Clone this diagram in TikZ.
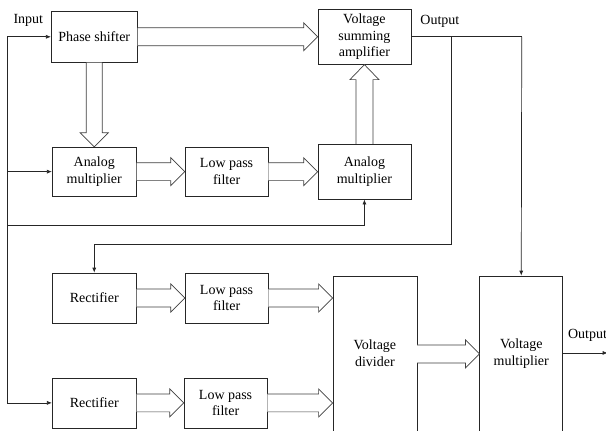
\documentclass[tikz,border=0pt]{standalone}
\usepackage{fontspec}
\setmainfont{Liberation Serif}
\usetikzlibrary{arrows.meta,calc}
\newcommand{\harrR}[2]{\draw[hollow] let \p1=(#1), \p2=(#2) in
  (\x1,\y1+9pt) -- (\x2-14pt,\y1+9pt) -- (\x2-14pt,\y1+14pt) -- (\x2,\y1) -- (\x2-14pt,\y1-14pt) -- (\x2-14pt,\y1-9pt) -- (\x1,\y1-9pt);}
\newcommand{\harrD}[2]{\draw[hollow] let \p1=(#1), \p2=(#2) in
  (\x1-8pt,\y1) -- (\x1-8pt,\y2+14pt) -- (\x1-14pt,\y2+14pt) -- (\x1,\y2) -- (\x1+14pt,\y2+14pt) -- (\x1+8pt,\y2+14pt) -- (\x1+8pt,\y1);}
\newcommand{\harrU}[2]{\draw[hollow] let \p1=(#1), \p2=(#2) in
  (\x1-8.5pt,\y1) -- (\x1-8.5pt,\y2-15pt) -- (\x1-14.5pt,\y2-15pt) -- (\x1,\y2) -- (\x1+14.5pt,\y2-15pt) -- (\x1+8.5pt,\y2-15pt) -- (\x1+8.5pt,\y1);}
\begin{document}
\begin{tikzpicture}[x=1pt,y=-1pt,
  font=\fontsize{14}{16.8}\selectfont,
  every path/.style={draw=black!85,line width=0.7pt},
  blk/.style={draw=black!85,line width=0.7pt,rectangle,align=center,inner sep=0pt},
  hollow/.style={draw=black!75,line width=0.7pt,fill=white,line join=miter},
  sig/.style={-{Latex[length=5pt,width=4pt]}},
  lbl/.style={inner sep=0pt}]
\useasboundingbox (0,0) rectangle (606,430);
\fill[white] (0,0) rectangle (606,430);
% blocks
\node[blk,minimum width=86pt,minimum height=51pt] (ps) at (94,36.5) {Phase shifter};
\node[blk,minimum width=93pt,minimum height=55pt] (vsa) at (364.5,36.5) {Voltage\\summing\\amplifier};
\node[blk,minimum width=84pt,minimum height=49pt] (am1) at (94,171.5) {Analog\\multiplier};
\node[blk,minimum width=83pt,minimum height=49pt] (lpf1) at (226.5,171.5) {Low pass\\filter};
\node[blk,minimum width=93pt,minimum height=55pt] (am2) at (364.5,171.5) {Analog\\multiplier};
\node[blk,minimum width=84pt,minimum height=50pt] (rect1) at (94,298) {Rectifier};
\node[blk,minimum width=83pt,minimum height=50pt] (lpf2) at (226.5,298) {Low pass\\filter};
\node[blk,minimum width=84pt,minimum height=50pt] (rect2) at (94,403) {Rectifier};
\node[blk,minimum width=83pt,minimum height=50pt] (lpf3) at (225.5,403) {Low pass\\filter};
\node[blk,minimum width=84pt,minimum height=155pt] (div) at (375,353.5) {Voltage\\divider};
\node[blk,minimum width=83pt,minimum height=155pt] (vm) at (521.5,353.5) {Voltage\\multiplier};
% labels
\node[lbl] (lin) at (28,20) {Input};
\node[lbl] (lout) at (440,21) {Output};
\node[lbl,anchor=west] (lout2) at (568,335) {Output};
% hollow arrows
\harrR{ps.east}{vsa.west}
\harrD{ps.south}{am1.north}
\harrR{am1.east}{lpf1.west}
\harrR{lpf1.east}{am2.west}
\harrU{am2.north}{vsa.south}
\harrR{rect1.east}{lpf2.west}
\harrR{lpf2.east}{lpf2.east -| div.west}
\harrR{rect2.east}{lpf3.west}
\harrR{lpf3.east}{lpf3.east -| div.west}
\coordinate (dvo) at ($(div.east)+(0,0.5)$);
\harrR{dvo}{dvo -| vm.west}
% input wiring
\coordinate (bus) at (7,36.5);
\coordinate (busb) at (7,403);
\draw[sig] (bus) -- (ps.west);
\draw (bus) -- (busb);
\draw[sig] (bus |- am1.west) -- (am1.west);
\coordinate (fb) at (7,225);
\draw[sig] (fb) -- (fb -| am2.south) -- (am2.south);
\draw[sig] (busb) -- (rect2.west);
% output wiring
\coordinate (o1) at (452,36.5);
\coordinate (o2) at (522,36.5);
\draw (vsa.east) -- (o2);
\draw[sig] (o2) -- (vm.north);
\coordinate (o3) at (452,244);
\draw[sig] (o1) -- (o3) -- (o3 -| rect1.north) -- (rect1.north);
\coordinate (oend) at (608,353);
\draw[sig] (vm.east |- oend) -- (oend);
\end{tikzpicture}
\end{document}
